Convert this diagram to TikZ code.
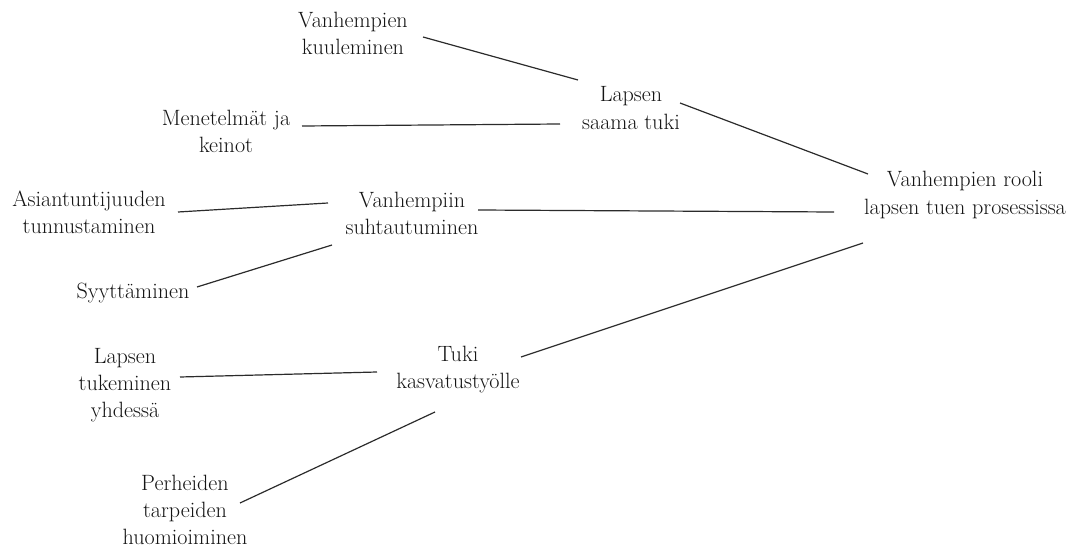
\documentclass[tikz,border=0pt]{standalone}
\usepackage{tikz}
\usetikzlibrary{calc, positioning}
\definecolor{MapText}{HTML}{141414}
\definecolor{MapLine}{HTML}{2B2B2B}

\begin{document}
\begin{tikzpicture}[
    x=0.75pt, y=-0.75pt,
    % Text node styles
    theme/.style={align=center, inner sep=0pt, text=MapText,
        font=\fontsize{16.6}{20.3}\selectfont},
    % Connector style
    link/.style={line width=0.9pt, MapLine}
]
    \useasboundingbox (0,0) rectangle (1076,549);

    % ==========================================
    % MAIN THEME
    % ==========================================
    \node[theme] (rooli) at (965,195) {Vanhempien rooli\\lapsen tuen prosessissa};

    % ==========================================
    % SUB-THEMES
    % ==========================================
    \node[theme] (saama) at (631,108) {Lapsen\\saama tuki};
    \node[theme] (suhtau) at (412,213) {Vanhempiin\\suhtautuminen};
    \node[theme] (kasvatus) at (458,370) {Tuki\\kasvatustyölle};

    % ==========================================
    % LEAF THEMES
    % ==========================================
    \node[theme] (kuul) at (353,33) {Vanhempien\\kuuleminen};
    \node[theme] (keinot) at (226,131) {Menetelmät ja\\keinot};
    \node[theme] (asiant) at (89,212) {Asiantuntijuuden\\tunnustaminen};
    \node[theme] (syyt) at (133,293) {Syyttäminen};
    \node[theme] (yhdessa) at (125,385) {Lapsen\\tukeminen\\yhdessä};
    \node[theme] (tarpeet) at (185,510) {Perheiden\\tarpeiden\\huomioiminen};

    % ==========================================
    % CONNECTORS
    % ==========================================
    \draw[link] ([shift={(70,4)}]kuul.center) -- ([shift={(-53,-28)}]saama.center);
    \draw[link] ([shift={(76,-5)}]keinot.center) -- ([shift={(-71,16)}]saama.center);
    \draw[link] ([shift={(49,-5)}]saama.center) -- ([shift={(-97,-21)}]rooli.center);

    \draw[link] ([shift={(89,0)}]asiant.center) -- ([shift={(-84,-10)}]suhtau.center);
    \draw[link] ([shift={(64,-6)}]syyt.center) -- ([shift={(-80,32)}]suhtau.center);
    \draw[link] ([shift={(66,-3)}]suhtau.center) -- ([shift={(-131,17)}]rooli.center);

    \draw[link] ([shift={(55,-8)}]yhdessa.center) -- ([shift={(-81,2)}]kasvatus.center);
    \draw[link] ([shift={(55,-7)}]tarpeet.center) -- ([shift={(-23,42)}]kasvatus.center);
    \draw[link] ([shift={(63,-13)}]kasvatus.center) -- ([shift={(-102,48)}]rooli.center);

\end{tikzpicture}
\end{document}
